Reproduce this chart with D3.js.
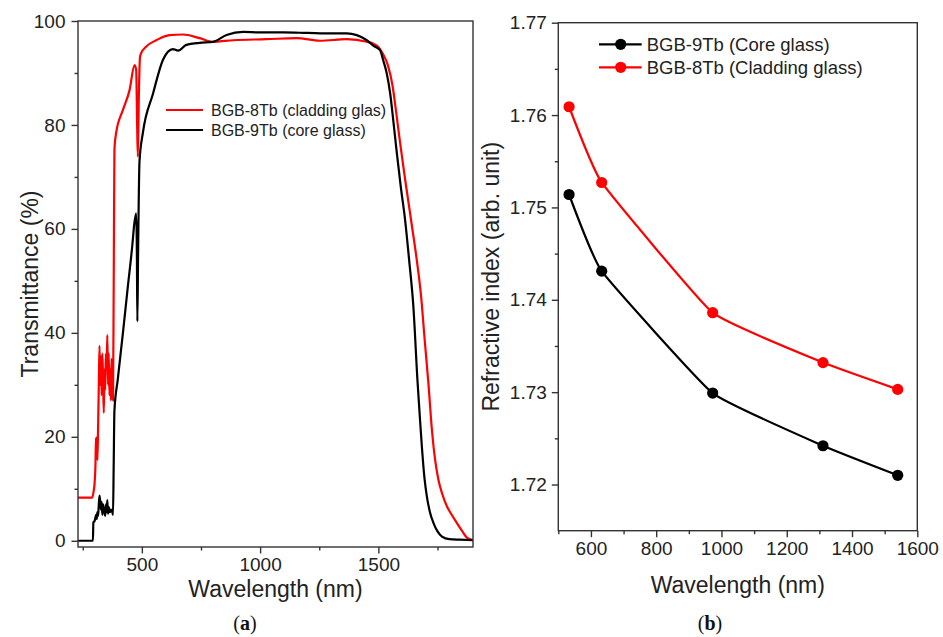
<!DOCTYPE html>
<html><head><meta charset="utf-8">
<script src="https://cdn.jsdelivr.net/npm/d3@7"></script>
<style>
body{margin:0;background:#fff;}
svg{display:block;font-family:"Liberation Sans",Arial,sans-serif;}
.axis path,.axis line{stroke:#333;stroke-width:1.4;}
.axis text{fill:#222;font-size:19px;font-family:"Liberation Sans",Arial,sans-serif;}
</style></head><body>
<svg id="c" width="943" height="637"></svg>
<script>
// ---------- Panel (a): transmittance spectra ----------
const claddingWl = [230,290,296,300,304,306,308,310,312,315,318,321,324,327,330,333,336,339,342,345,348,351,354,357,360,363,366,369,372,375,378,381,384,391,420,448,469,476,480,483,487,492,497,519,561,617,674,744,801,886,1027,1154,1253,1366,1451,1480,1500,1520,1540,1560,1575,1592,1610,1625,1641,1660,1681,1696,1712,1726,1740,1754,1770,1790,1810,1832,1855,1874,1900];
const claddingT  = [8.3,8.3,9.5,11,15,19.8,16,20,15.5,22,30,37.5,30,35.5,28,36,31,24.6,33,29,36,33,39.6,30,36,28,33,27,35,30,27,50,75.2,78.4,82.9,86.7,91.5,90.6,80,73.9,85,93,93.8,95.1,96.3,97.3,97.4,96.7,96.0,96.3,96.5,96.7,96.2,96.5,96.0,95.6,95.0,93.6,91.5,87.5,82.5,76.5,70.5,65.8,60.8,54.8,46.8,38.5,30,21.5,15.5,11.7,9,6.6,5,3.4,1.8,0.6,0.1];

const coreWl = [230,293,295,300,304,307,309,312,315,318,321,324,327,330,333,336,339,342,345,348,351,354,357,360,365,370,375,378,381,384,398,420,440,460,468,476,479,481,484,490,504,547,589,631,653,688,744,801,858,928,1000,1100,1200,1300,1366,1451,1480,1507,1520,1535,1550,1565,1578,1595,1613,1630,1648,1665,1675,1684,1695,1705,1718,1733,1750,1769,1800,1846,1900];
const coreT  = [0,0,3.5,3.8,4.5,5,4.2,5.5,4.8,7,8.7,7.5,6,7.5,5,7,6,5.5,4.8,7,5.5,7.8,5.2,6.5,5.5,6,5.5,5,15,25,31,40,48.6,57,61,63,55,42.2,55,73,78.4,86,92.5,94.6,94.3,95.4,95.8,96,97.3,97.9,97.8,97.8,97.7,97.6,97.6,96.3,95.2,94.4,92.5,90,86,80,74.6,68,61.7,54,45,31,24,18,12,8.5,5.5,3.4,1.8,0.8,0.3,0.2,0.1];

const aXTicks = [500,1000,1500];
const aXMinor = [250,750,1250,1750];
const aYTicks = [0,20,40,60,80,100];
const aYMinor = [10,30,50,70,90];
const aLegend = ["BGB-8Tb (cladding glas)","BGB-9Tb (core glass)"];

// ---------- Panel (b): refractive index ----------
const nWl = [533,633,973,1311,1540];
const coreN = [1.7514,1.7431,1.7299,1.7242,1.7210];
const claddingN = [1.7609,1.7527,1.7386,1.7332,1.7303];
const bXTicks = [600,800,1000,1200,1400,1600];
const bXMinor = [500,700,900,1100,1300,1500];
const bYTicks = [1.72,1.73,1.74,1.75,1.76,1.77];
const bYMinor = [1.725,1.735,1.745,1.755,1.765];
const bLegend = ["BGB-9Tb (Core glass)","BGB-8Tb (Cladding glass)"];

const RED = "#ff0000", BLACK = "#000000";
const svg = d3.select("#c");

function box(g, x0, y0, x1, y1){
  g.append("rect").attr("x",x0).attr("y",y0).attr("width",x1-x0).attr("height",y1-y0)
   .attr("fill","none").attr("stroke","#333").attr("stroke-width",1.4);
}

// ----- Panel (a) -----
{
  const L=78,R=473,T=21,B=547;
  const x = d3.scaleLinear().domain([230,1900]).range([L,R]);
  const y = d3.scaleLinear().domain([-1.2,100]).range([B,T]);
  const g = svg.append("g");
  const clipId="clipA";
  g.append("clipPath").attr("id",clipId).append("rect").attr("x",L).attr("y",T-3).attr("width",R-L).attr("height",B-T+3);

  const line = d3.line().x(d=>x(d[0])).y(d=>y(d[1])).curve(d3.curveMonotoneX);
  g.append("path").datum(claddingWl.map((w,i)=>[w,claddingT[i]]))
    .attr("d",line).attr("fill","none").attr("stroke",RED).attr("stroke-width",2.2).attr("clip-path",`url(#${clipId})`);
  g.append("path").datum(coreWl.map((w,i)=>[w,coreT[i]]))
    .attr("d",line).attr("fill","none").attr("stroke",BLACK).attr("stroke-width",2.2).attr("clip-path",`url(#${clipId})`);

  box(g,L,T,R,B);
  const xa = g.append("g").attr("class","axis").attr("transform",`translate(0,${B})`)
    .call(d3.axisBottom(x).tickValues(aXTicks).tickSize(6.5).tickPadding(4).tickFormat(d3.format("d")));
  xa.select(".domain").remove();
  g.append("g").attr("class","axis").attr("transform",`translate(0,${B})`)
    .call(d3.axisBottom(x).tickValues(aXMinor).tickSize(3.5).tickFormat("")).select(".domain").remove();
  const ya = g.append("g").attr("class","axis").attr("transform",`translate(${L},0)`)
    .call(d3.axisLeft(y).tickValues(aYTicks).tickSize(6.5).tickPadding(6).tickFormat(d3.format("d")));
  ya.select(".domain").remove();
  g.append("g").attr("class","axis").attr("transform",`translate(${L},0)`)
    .call(d3.axisLeft(y).tickValues(aYMinor).tickSize(3.5).tickFormat("")).select(".domain").remove();

  g.append("text").attr("x",(L+R)/2).attr("y",597).attr("text-anchor","middle")
    .attr("font-size",23).attr("fill","#222").text("Wavelength (nm)");
  g.append("text").attr("transform",`translate(38,${(T+B)/2}) rotate(-90)`).attr("text-anchor","middle")
    .attr("font-size",23).attr("fill","#222").text("Transmittance (%)");

  // legend
  const lg = g.append("g");
  [[RED,110,aLegend[0]],[BLACK,130,aLegend[1]]].forEach(([c,yy,t])=>{
    lg.append("line").attr("x1",166).attr("x2",203).attr("y1",yy).attr("y2",yy).attr("stroke",c).attr("stroke-width",2.2);
    lg.append("text").attr("x",211).attr("y",yy).attr("dy","0.35em").attr("font-size",16).attr("fill","#222").text(t);
  });

  const cap = g.append("text").attr("x",245).attr("y",630).attr("text-anchor","middle")
    .attr("font-family","'Liberation Serif','Times New Roman',serif").attr("font-size",20).attr("fill","#111");
  cap.append("tspan").text("(");
  cap.append("tspan").attr("font-weight","bold").text("a");
  cap.append("tspan").text(")");
}

// ----- Panel (b) -----
{
  const L=558.3,R=917.3,T=22.7,B=530.7;
  const x = d3.scaleLinear().domain([500,1600]).range([L,R]);
  const y = d3.scaleLinear().domain([1.715,1.77]).range([B,T]);
  const g = svg.append("g");
  box(g,L,T,R,B);
  const xa = g.append("g").attr("class","axis").attr("transform",`translate(0,${B})`)
    .call(d3.axisBottom(x).tickValues(bXTicks).tickSize(6.5).tickPadding(4).tickFormat(d3.format("d")));
  xa.select(".domain").remove();
  g.append("g").attr("class","axis").attr("transform",`translate(0,${B})`)
    .call(d3.axisBottom(x).tickValues(bXMinor).tickSize(3.5).tickFormat("")).select(".domain").remove();
  const ya = g.append("g").attr("class","axis").attr("transform",`translate(${L},0)`)
    .call(d3.axisLeft(y).tickValues(bYTicks).tickSize(6.5).tickPadding(5).tickFormat(d3.format(".2f")));
  ya.select(".domain").remove();
  g.append("g").attr("class","axis").attr("transform",`translate(${L},0)`)
    .call(d3.axisLeft(y).tickValues(bYMinor).tickSize(3.5).tickFormat("")).select(".domain").remove();

  const line = d3.line().x(d=>x(d[0])).y(d=>y(d[1])).curve(d3.curveCardinal.tension(0.65));
  [[coreN,BLACK],[claddingN,RED]].forEach(([arr,c])=>{
    const pts = nWl.map((w,i)=>[w,arr[i]]);
    g.append("path").datum(pts).attr("d",line).attr("fill","none").attr("stroke",c).attr("stroke-width",2.2);
    g.selectAll(null).data(pts).enter().append("circle")
      .attr("cx",d=>x(d[0])).attr("cy",d=>y(d[1])).attr("r",5.6).attr("fill",c);
  });

  g.append("text").attr("x",(L+R)/2).attr("y",593).attr("text-anchor","middle")
    .attr("font-size",23).attr("fill","#222").text("Wavelength (nm)");
  g.append("text").attr("transform",`translate(499,${(T+B)/2}) rotate(-90)`).attr("text-anchor","middle")
    .attr("font-size",23).attr("fill","#222").text("Refractive index (arb. unit)");

  const lg = g.append("g");
  [[BLACK,44.3,bLegend[0]],[RED,67.3,bLegend[1]]].forEach(([c,yy,t])=>{
    lg.append("line").attr("x1",599).attr("x2",641.7).attr("y1",yy).attr("y2",yy).attr("stroke",c).attr("stroke-width",2.2);
    lg.append("circle").attr("cx",620.7).attr("cy",yy).attr("r",5.6).attr("fill",c);
    lg.append("text").attr("x",646.7).attr("y",yy).attr("dy","0.35em").attr("font-size",18.5).attr("fill","#222").text(t);
  });

  const cap = g.append("text").attr("x",710).attr("y",630).attr("text-anchor","middle")
    .attr("font-family","'Liberation Serif','Times New Roman',serif").attr("font-size",20).attr("fill","#111");
  cap.append("tspan").text("(");
  cap.append("tspan").attr("font-weight","bold").text("b");
  cap.append("tspan").text(")");
}
</script>
</body></html>
